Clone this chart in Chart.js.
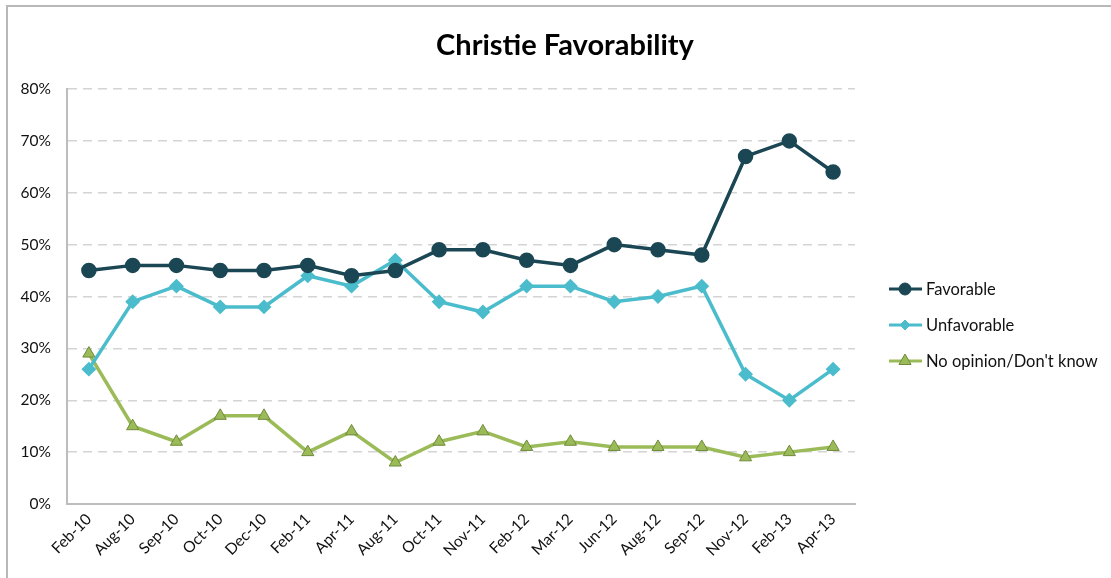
<!DOCTYPE html>
<html>
<head>
<meta charset="utf-8">
<script src="https://cdn.jsdelivr.net/npm/chart.js@4"></script>
<style>
  body { margin: 0; background: #fff; }
  #wrap { position: relative; width: 1111px; height: 578px; }
  #frame { position: absolute; left: 6px; top: 5px; right: 0; bottom: 0;
           border-left: 2px solid #b8b8b8; border-top: 2px solid #b8b8b8; pointer-events: none; }
  canvas { position: absolute; left: 0; top: 0; }
</style>
</head>
<body>
<div id="wrap">
  <canvas id="chart" width="1111" height="578"></canvas>
  <div id="frame"></div>
</div>
<script>
// Poll data
const months = ['Feb-10', 'Aug-10', 'Sep-10', 'Oct-10', 'Dec-10', 'Feb-11', 'Apr-11', 'Aug-11', 'Oct-11',
  'Nov-11', 'Feb-12', 'Mar-12', 'Jun-12', 'Aug-12', 'Sep-12', 'Nov-12', 'Feb-13', 'Apr-13'];
const favorable = [45, 46, 46, 45, 45, 46, 44, 45, 49, 49, 47, 46, 50, 49, 48, 67, 70, 64];
const unfavorable = [26, 39, 42, 38, 38, 44, 42, 47, 39, 37, 42, 42, 39, 40, 42, 25, 20, 26];
const noOpinion = [29, 15, 12, 17, 17, 10, 14, 8, 12, 14, 11, 12, 11, 11, 11, 9, 10, 11];
const yTicks = [0, 10, 20, 30, 40, 50, 60, 70, 80];

const FONT = 'Lato, "Open Sans", sans-serif';

// Draws the title and the right-hand legend (line + marker + label)
const decorations = {
  id: 'decorations',
  afterDraw(chart) {
    const c = chart.ctx;
    c.save();
    c.fillStyle = '#000';
    c.font = 'bold 29px ' + FONT;
    c.textAlign = 'center';
    c.textBaseline = 'middle';
    c.fillText('Christie Favorability', 565, 46);

    const rows = [289, 325, 361];
    chart.data.datasets.forEach((ds, i) => {
      const y = rows[i];
      c.strokeStyle = ds.borderColor;
      c.lineWidth = 3;
      c.beginPath();
      c.moveTo(889, y);
      c.lineTo(922, y);
      c.stroke();
      c.fillStyle = ds.pointBackgroundColor;
      c.strokeStyle = ds.pointBorderColor;
      c.lineWidth = ds.pointBorderWidth || 1;
      Chart.helpers.drawPoint(c, {
        pointStyle: ds.pointStyle,
        radius: ds.pointRadius,
        borderWidth: ds.pointBorderWidth || 1
      }, 905, y);
      c.fillStyle = '#111';
      c.font = '16.5px ' + FONT;
      c.textAlign = 'left';
      c.fillText(ds.label, 926, y + 1);
    });
    c.restore();
  }
};

new Chart(document.getElementById('chart'), {
  type: 'line',
  data: {
    labels: months,
    datasets: [
      {
        label: 'Favorable',
        data: favorable,
        borderColor: '#1b4654',
        backgroundColor: '#1b4654',
        pointBackgroundColor: '#1b4654',
        pointBorderColor: '#1b4654',
        pointStyle: 'circle',
        pointRadius: 6,
        borderWidth: 3.5
      },
      {
        label: 'Unfavorable',
        data: unfavorable,
        borderColor: '#4bbccc',
        backgroundColor: '#4bbccc',
        pointBackgroundColor: '#4bbccc',
        pointBorderColor: '#4bbccc',
        pointStyle: 'rectRot',
        pointRadius: 5,
        borderWidth: 3.5
      },
      {
        label: "No opinion/Don't know",
        data: noOpinion,
        borderColor: '#9bbb59',
        backgroundColor: '#9bbb59',
        pointBackgroundColor: '#9bbb59',
        pointBorderColor: '#6f8a3a',
        pointStyle: 'triangle',
        pointRadius: 7,
        pointBorderWidth: 1,
        borderWidth: 3.5
      }
    ]
  },
  options: {
    responsive: false,
    animation: false,
    layout: { padding: { top: 89, right: 256, left: 0, bottom: 0 } },
    plugins: {
      legend: { display: false },
      title: { display: false },
      tooltip: { enabled: false }
    },
    scales: {
      x: {
        offset: true,
        grid: { display: false, drawTicks: false },
        border: { color: '#bdbdbd', width: 2 },
        ticks: {
          minRotation: 45,
          maxRotation: 45,
          autoSkip: false,
          padding: 6,
          color: '#111',
          font: { family: FONT, size: 15.5 }
        },
        afterFit: s => { s.height = 74; }
      },
      y: {
        min: 0,
        max: 80,
        afterBuildTicks: s => { s.ticks = yTicks.map(v => ({ value: v })); },
        grid: {
          color: ctx => ctx.tick.value === 0 ? 'rgba(0,0,0,0)' : '#d4d4d4',
          lineWidth: 1.5,
          drawTicks: false
        },
        border: { color: '#bdbdbd', width: 2, dash: [9, 6] },
        ticks: {
          padding: 16,
          color: '#111',
          callback: v => v + '%',
          font: { family: FONT, size: 15.5 }
        },
        afterFit: s => { s.width = 67; }
      }
    }
  },
  plugins: [decorations]
});
</script>
</body>
</html>
